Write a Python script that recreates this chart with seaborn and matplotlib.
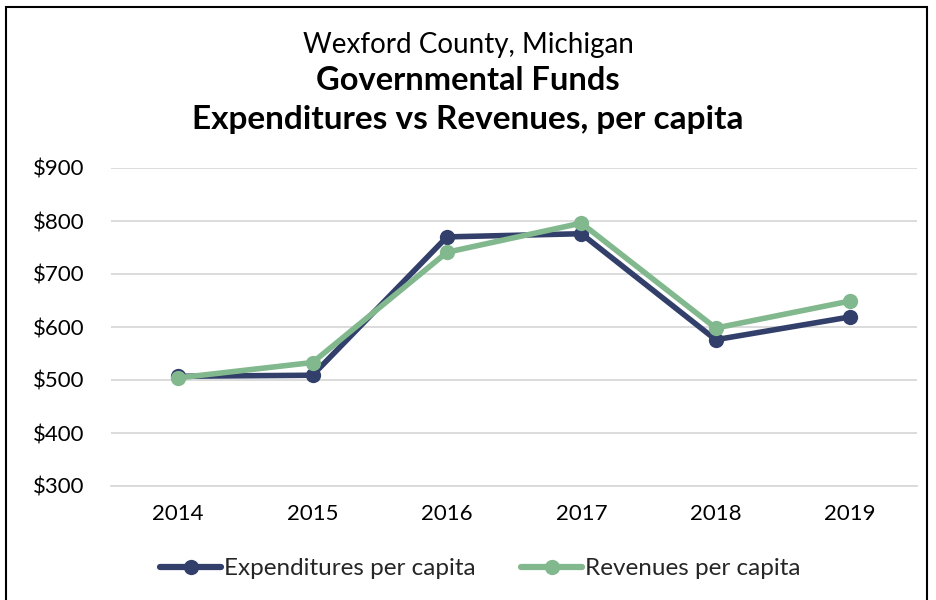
import matplotlib
matplotlib.use("Agg")
import matplotlib.pyplot as plt
import seaborn as sns
import pandas as pd
from matplotlib.patches import Rectangle
from matplotlib.ticker import FuncFormatter

years = ["2014", "2015", "2016", "2017", "2018", "2019"]
expenditures = [507, 509, 770, 776, 576, 619]
revenues = [504, 533, 741, 796, 598, 649]
series_names = ["Expenditures per capita", "Revenues per capita"]
y_ticks = [300, 400, 500, 600, 700, 800, 900]

df = pd.DataFrame({
    "Year": years * 2,
    "Value": expenditures + revenues,
    "Series": [series_names[0]] * len(years) + [series_names[1]] * len(years),
})

sns.set_theme(style="white")
plt.rcParams["font.family"] = ["Lato", "DejaVu Sans"]

fig = plt.figure(figsize=(9.36, 6), dpi=100)
ax = fig.add_axes([0.1186, 0.19, 0.8614, 0.53])

palette = {series_names[0]: "#323F6B", series_names[1]: "#82B88D"}
sns.lineplot(data=df, x="Year", y="Value", hue="Series", palette=palette,
             marker="o", markersize=11, linewidth=4, markeredgewidth=0,
             sort=False, ax=ax)

ax.set_ylim(300, 900)
ax.set_xlim(-0.5, 5.5)
ax.set_yticks(y_ticks)
ax.yaxis.set_major_formatter(FuncFormatter(lambda v, p: f"${int(v)}"))
ax.grid(axis="y", color="#D9D9D9", linewidth=1.3)
ax.set_axisbelow(True)
for s in ["top", "right", "left"]:
    ax.spines[s].set_visible(False)
ax.spines["bottom"].set_color("#D9D9D9")
ax.spines["bottom"].set_linewidth(1.3)
ax.set_xlabel("")
ax.set_ylabel("")
ax.tick_params(axis="both", labelsize=16, colors="black", length=0)
ax.tick_params(axis="y", pad=19)
ax.tick_params(axis="x", pad=13)

handles, labels = ax.get_legend_handles_labels()
ax.legend_.remove()
for h in handles:
    h.set_linewidth(4.5)
fig.legend(handles, labels, loc="center", bbox_to_anchor=(0.513, 0.052), ncol=2,
           frameon=False, fontsize=17.5, handlelength=2.5, handletextpad=0.1,
           columnspacing=1.9)

fig.text(0.5, 1 - 45 / 600, "Wexford County, Michigan", ha="center", va="center",
         fontsize=20, color="black")
fig.text(0.5, 1 - 81 / 600, "Governmental Funds", ha="center", va="center",
         fontsize=23.5, fontweight="bold", color="black")
fig.text(0.5, 1 - 119 / 600, "Expenditures vs Revenues, per capita", ha="center",
         va="center", fontsize=24, fontweight="bold", color="black")

fig.patches.append(Rectangle((6 / 936, -0.05), 921 / 936, 1 - 7 / 600 + 0.05,
                             transform=fig.transFigure, fill=False,
                             edgecolor="black", linewidth=1.5))

fig.savefig("out.png", dpi=100)
